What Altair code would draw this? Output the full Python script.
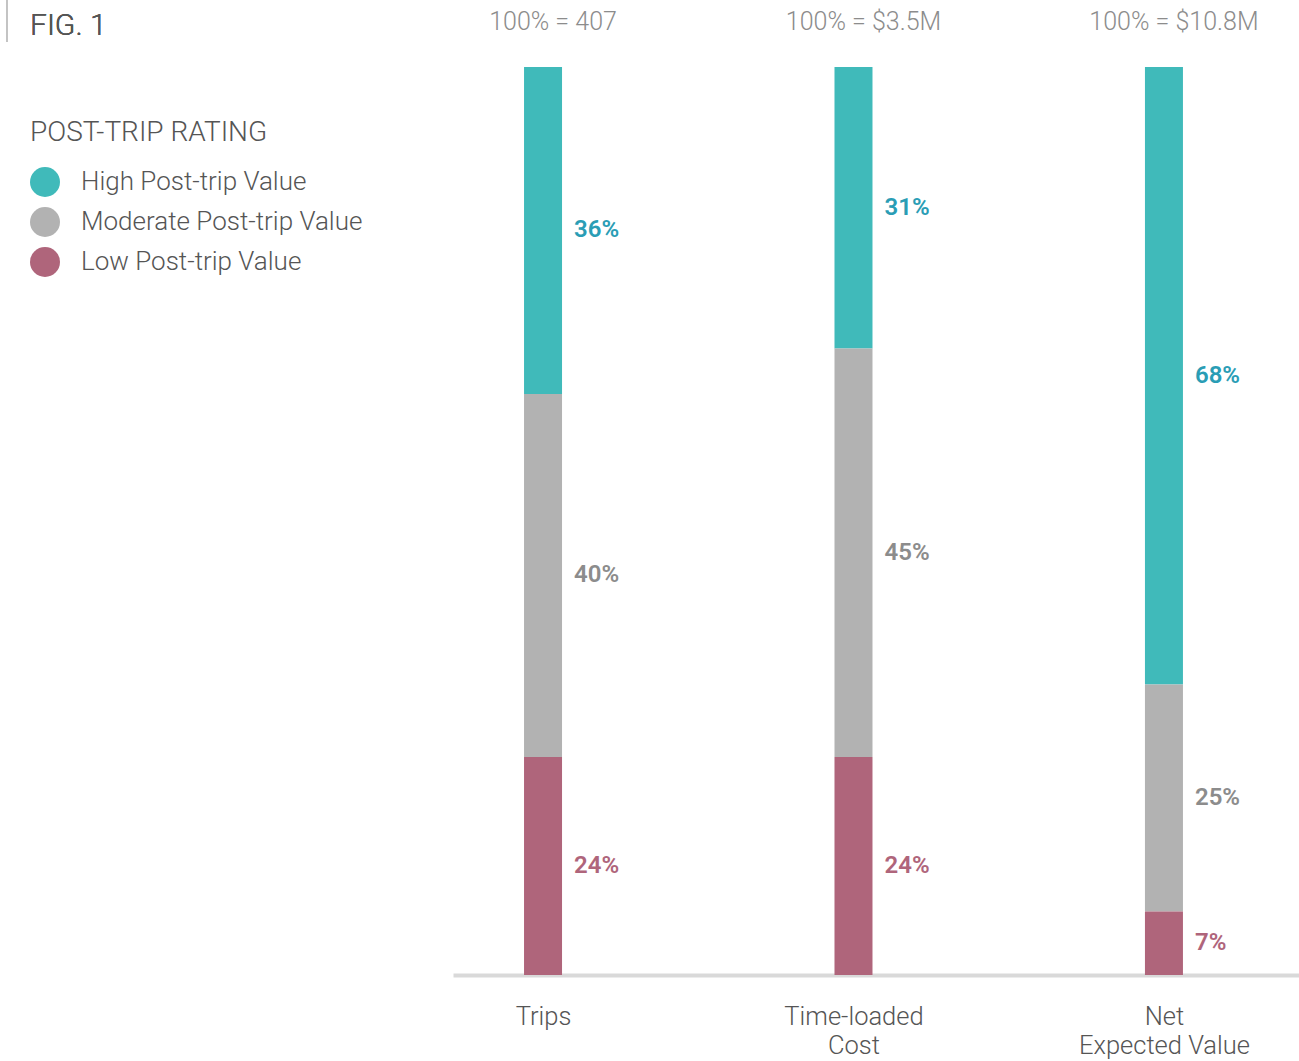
import altair as alt
import pandas as pd

# ---- data ----
metrics = ["Trips", "Time-loaded|Cost", "Net|Expected Value"]
totals = ["100% = 407", "100% = $3.5M", "100% = $10.8M"]
ratings = ["High Post-trip Value", "Moderate Post-trip Value", "Low Post-trip Value"]
high_pct = [36, 31, 68]
moderate_pct = [40, 45, 25]
low_pct = [24, 24, 7]
fig_label = "FIG. 1"
legend_title = "POST-TRIP RATING"

# ---- styles ----
FONT = "Roboto"
bar_colors = ["#40BABA", "#B2B2B2", "#AF657B"]
label_colors = ["#2A9DB5", "#8C8C8C", "#AF657B"]
TXT = "#555555"

rows = []
for i, m in enumerate(metrics):
    for r, vals, ordv in [(ratings[0], high_pct, 2), (ratings[1], moderate_pct, 1), (ratings[2], low_pct, 0)]:
        rows.append({"idx": i, "metric": m, "rating": r, "pct": vals[i], "ord": ordv})
df = pd.DataFrame(rows)
tot_df = pd.DataFrame({"idx": list(range(len(metrics))), "total": totals, "top": [100] * len(metrics)})

label_array = "[" + ",".join("'" + m + "'" for m in metrics) + "]"
xscale = alt.Scale(domain=[-0.29, 2.435], nice=False, zero=False, padding=0)
yscale = alt.Scale(domain=[0, 100], nice=False)

base = alt.Chart(df)

bars = base.mark_bar(size=38).encode(
    x=alt.X("idx:Q", scale=xscale, title=None,
            axis=alt.Axis(values=[0, 1, 2], labelExpr="split(" + label_array + "[datum.value], '|')",
                          grid=False, ticks=False, tickSize=0, domainColor="#D9D9D9", domainWidth=4,
                          labelFont=FONT, labelFontSize=25.5, labelFontWeight=300, labelColor=TXT,
                          labelPadding=29, labelLineHeight=29, labelAlign="center", labelBaseline="top")),
    y=alt.Y("pct:Q", stack="zero", scale=yscale, axis=None),
    color=alt.Color("rating:N", scale=alt.Scale(domain=ratings, range=bar_colors),
                    legend=alt.Legend(title=legend_title, orient="none", legendX=-423, legendY=52,
                                      symbolType="circle", symbolSize=900, symbolStrokeWidth=0, symbolOpacity=1,
                                      titleFont=FONT, titleFontSize=28, titleFontWeight=300, titleColor=TXT,
                                      titleLimit=500,
                                      labelFont=FONT, labelFontSize=26, labelFontWeight=300, labelColor=TXT,
                                      labelOffset=21, rowPadding=10, titlePadding=20, labelLimit=0)),
    order=alt.Order("ord:Q", sort="ascending"),
)

labels = base.transform_stack(
    stack="pct", groupby=["idx"], as_=["y0", "y1"], sort=[alt.SortField("ord", order="ascending")]
).transform_calculate(
    mid="(datum.y0 + datum.y1) / 2",
    lab="datum.pct + '%'",
).mark_text(align="left", baseline="middle", dx=31, font=FONT, fontSize=24, fontWeight=600).encode(
    x=alt.X("idx:Q", scale=xscale),
    y=alt.Y("mid:Q", scale=yscale),
    text="lab:N",
    color=alt.Color("rating:N", scale=alt.Scale(domain=ratings, range=label_colors), legend=None),
)

tops = alt.Chart(tot_df).mark_text(align="center", baseline="middle", dy=-45, dx=10, font=FONT,
                                    fontSize=25, fontWeight=300, color="#8C8C8C").encode(
    x=alt.X("idx:Q", scale=xscale),
    y=alt.Y("top:Q", scale=yscale),
    text="total:N",
)

fig_line = alt.Chart(tot_df).mark_rule(color="#BBBBBB", strokeWidth=1).encode(
    x=alt.value(-446), y=alt.value(-67), y2=alt.value(-25)
)

fig_text = alt.Chart(tot_df).mark_text(align="left", baseline="alphabetic", font=FONT, fontSize=30,
                                        fontWeight=300, color=TXT).encode(
    x=alt.value(-423), y=alt.value(-32), text=alt.value(fig_label)
)

chart = alt.layer(bars, labels, tops, fig_line, fig_text).resolve_scale(color="independent").properties(
    width=846, height=908,
    padding={"left": 453, "top": 67, "right": 0, "bottom": 86},
    autosize=alt.AutoSizeParams(type="none"),
).configure_view(stroke=None)

chart.save("out.html", embed_options={"renderer": "svg", "actions": False})
